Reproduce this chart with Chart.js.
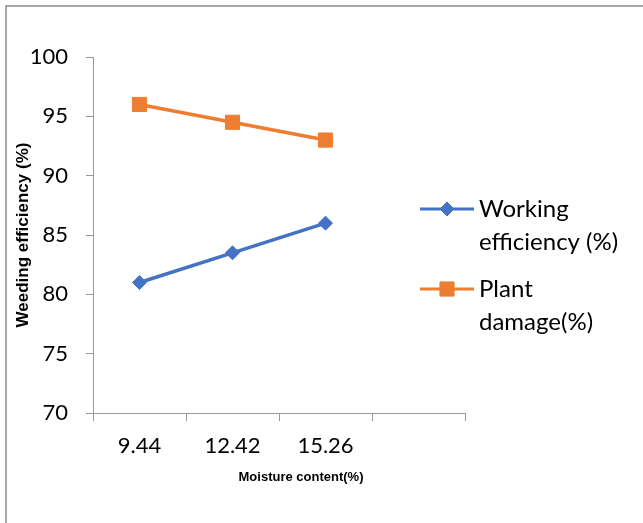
<!DOCTYPE html>
<html>
<head>
<meta charset="utf-8">
<script src="https://cdn.jsdelivr.net/npm/chart.js@4.4.0/dist/chart.umd.min.js"></script>
<style>
  html, body { margin: 0; padding: 0; background: #fff; }
  #wrap { position: relative; width: 643px; height: 523px; }
  #frame {
    position: absolute; left: 5px; top: 5px; right: 0; bottom: 0;
    border-top: 2px solid #a6a6a6; border-left: 2px solid #a6a6a6;
  }
  canvas { position: absolute; left: 0; top: 0; }
</style>
</head>
<body>
<div id="wrap">
  <div id="frame"></div>
  <canvas id="chart" width="643" height="523"></canvas>
</div>
<script>
const moisture = ["9.44", "12.42", "15.26", ""];
const workingEff = [81, 83.5, 86];
const plantDamage = [96, 94.5, 93];
const yTicks = { min: 70, max: 100, step: 5 };
const xTitle = "Moisture content(%)";
const yTitle = "Weeding efficiency (%)";

const blue = "#4472C4";
const orange = "#ED7D31";
const axisGray = "#9a9a9a";

// legend drawn by hand so the labels can wrap onto two lines like Excel
const sideLegend = {
  id: "sideLegend",
  afterDraw(chart) {
    const { ctx, chartArea } = chart;
    const x0 = chartArea.right - 45;
    const x1 = x0 + 54;
    const rows = [chartArea.top + 152, chartArea.top + 232];
    ctx.save();
    chart.data.datasets.forEach((ds, i) => {
      const y = rows[i];
      ctx.strokeStyle = ds.borderColor;
      ctx.lineWidth = 3;
      ctx.beginPath();
      ctx.moveTo(x0, y);
      ctx.lineTo(x1, y);
      ctx.stroke();
      ctx.fillStyle = ds.backgroundColor;
      ctx.lineWidth = 1;
      Chart.helpers.drawPoint(ctx, {
        pointStyle: ds.pointStyle, radius: ds.pointRadius, rotation: 0, borderWidth: 1
      }, (x0 + x1) / 2, y);
      ctx.fillStyle = "#000";
      ctx.font = "24px Lato";
      ctx.textAlign = "left";
      ctx.textBaseline = "middle";
      ds.label.forEach((line, k) => ctx.fillText(line, x1 + 5, y + k * 33));
    });
    // x axis title, sits a little right of the plot centre in the original
    ctx.font = "bold 13px 'Liberation Sans'";
    ctx.textAlign = "center";
    ctx.fillText(xTitle, (chartArea.left + chartArea.right) / 2 + 22, chartArea.bottom + 64);
    ctx.restore();
  },
};

new Chart(document.getElementById("chart"), {
  type: "line",
  data: {
    labels: moisture,
    datasets: [
      {
        label: ["Working", "efficiency (%)"],
        data: workingEff,
        borderColor: blue,
        backgroundColor: blue,
        borderWidth: 3.5,
        pointStyle: "rectRot",
        pointRadius: 7,
        pointBorderWidth: 1,
        tension: 0,
      },
      {
        label: ["Plant", "damage(%)"],
        data: plantDamage,
        borderColor: orange,
        backgroundColor: orange,
        borderWidth: 3.5,
        pointStyle: "rect",
        pointRadius: 10,
        pointBorderWidth: 1,
        tension: 0,
      },
    ],
  },
  options: {
    responsive: false,
    animation: false,
    events: [],
    layout: { padding: { left: 0, top: 57, right: 178, bottom: 0 } },
    plugins: {
      legend: { display: false },
      tooltip: { enabled: false },
    },
    scales: {
      x: {
        offset: true,
        grid: {
          offset: true,
          drawOnChartArea: false,
          tickLength: 8,
          color: axisGray,
        },
        border: { color: axisGray, width: 1 },
        ticks: {
          color: "#000",
          padding: 12,
          font: { family: "Lato", size: 22 },
        },
        afterFit: (s) => { s.height = 110; },
      },
      y: {
        min: yTicks.min,
        max: yTicks.max,
        grid: {
          drawOnChartArea: false,
          tickLength: 7,
          color: axisGray,
        },
        border: { color: axisGray, width: 1 },
        ticks: {
          stepSize: yTicks.step,
          color: "#000",
          padding: 18,
          font: { family: "Lato", size: 22 },
        },
        title: {
          display: true,
          text: yTitle,
          color: "#000",
          padding: { top: 13, bottom: 0 },
          font: { family: "Liberation Sans", size: 17, weight: "bold" },
        },
        afterFit: (s) => { s.width = 93; },
      },
    },
  },
  plugins: [sideLegend],
});
</script>
</body>
</html>
